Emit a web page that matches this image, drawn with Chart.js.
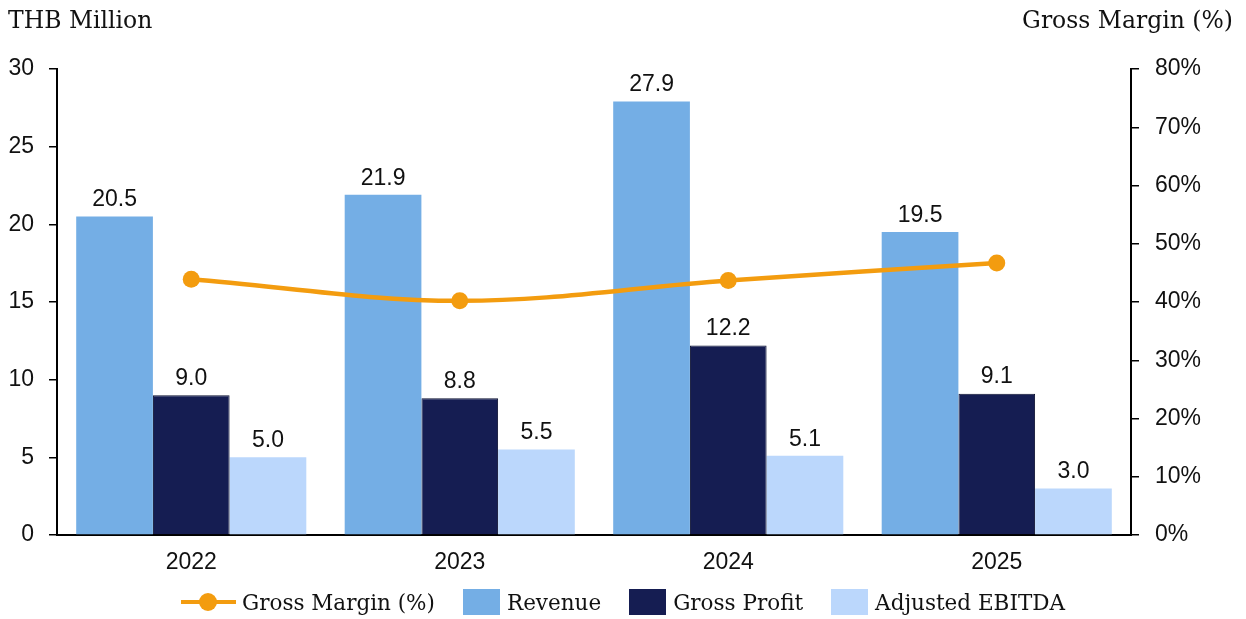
<!DOCTYPE html>
<html>
<head>
<meta charset="utf-8">
<script src="https://cdn.jsdelivr.net/npm/chart.js@4/dist/chart.umd.min.js"></script>
<style>
  body { margin: 0; background: #fff; }
  #wrap { position: relative; width: 1246px; height: 619px; }
  .ttl { position: absolute; top: 6px; font: 23.5px "DejaVu Serif", serif; color: #111; }
  #legend { position: absolute; left: 0; width: 1246px; top: 589px; display: flex; justify-content: center; align-items: center;
            font: 21.5px "DejaVu Serif", serif; color: #111; }
  .item { display: flex; align-items: center; margin: 0 14px; }
  .sw { width: 37px; height: 26px; margin-right: 7px; }
  .ln { position: relative; width: 55px; height: 26px; margin-right: 6px; }
  .ln:before { content: ""; position: absolute; left: 0; right: 0; top: 11px; height: 4px; background: #F39C0F; }
  .ln:after { content: ""; position: absolute; left: 18px; top: 4px; width: 18px; height: 18px; border-radius: 50%; background: #F39C0F; }
</style>
</head>
<body>
<div id="wrap">
  <canvas id="chart"></canvas>
  <div class="ttl" style="left:8px">THB Million</div>
  <div class="ttl" style="right:13px">Gross Margin (%)</div>
  <div id="legend">
    <div class="item"><span class="ln"></span>Gross Margin (%)</div>
    <div class="item"><span class="sw" style="background:#74AEE5"></span>Revenue</div>
    <div class="item"><span class="sw" style="background:#151D52"></span>Gross Profit</div>
    <div class="item"><span class="sw" style="background:#BBD7FC"></span>Adjusted EBITDA</div>
  </div>
</div>
<script>
// values
let years = ['2022', '2023', '2024', '2025'];
let revenue = [20.5, 21.9, 27.9, 19.5];
let grossProfit = [9.0, 8.8, 12.2, 9.1];
let ebitda = [5.0, 5.5, 5.1, 3.0];
let grossMargin = [43.9, 40.2, 43.7, 46.7];

let sans = 'Liberation Sans, Arial, sans-serif';

// value labels on top of the bars
let barLabels = {
    id: 'barLabels',
    afterDatasetsDraw(chart) {
        let ctx = chart.ctx;
        ctx.save();
        ctx.font = '23px ' + sans;
        ctx.fillStyle = '#111';
        ctx.textAlign = 'center';
        ctx.textBaseline = 'bottom';
        chart.data.datasets.forEach(function (ds, i) {
            if (ds.type != 'bar') return;
            chart.getDatasetMeta(i).data.forEach(function (bar, j) {
                ctx.fillText(ds.data[j].toFixed(1), bar.x, bar.y - 5);
            });
        });
        ctx.restore();
    }
};

let ctx = document.getElementById('chart').getContext('2d');
let myChart = new Chart(ctx, {
    data: {
        labels: years,
        datasets: [
            {
                type: 'line', label: 'Gross Margin (%)', data: grossMargin, yAxisID: 'y1',
                borderColor: '#F39C0F', backgroundColor: '#F39C0F', borderWidth: 4.5,
                pointRadius: 8.5, pointHoverRadius: 8.5, pointBorderWidth: 0, tension: 0.35
            },
            { type: 'bar', label: 'Revenue', data: revenue, yAxisID: 'y', backgroundColor: '#74AEE5' },
            { type: 'bar', label: 'Gross Profit', data: grossProfit, yAxisID: 'y', backgroundColor: '#151D52', borderColor: '#0b1030', borderWidth: 1 },
            { type: 'bar', label: 'Adjusted EBITDA', data: ebitda, yAxisID: 'y', backgroundColor: '#BBD7FC' }
        ]
    },
    options: {
        responsive: true,
        maintainAspectRatio: false,
        animation: false,
        datasets: { bar: { categoryPercentage: 0.857, barPercentage: 1.0 } },
        layout: { padding: { top: 69, bottom: 44, left: 0, right: 0 } },
        plugins: { legend: { display: false }, tooltip: { enabled: false } },
        scales: {
            x: {
                grid: { display: false },
                border: { display: true, color: '#000', width: 2 },
                ticks: { color: '#111', font: { family: sans, size: 23 }, padding: 6 },
                afterFit(scale) { scale.height = 40; }
            },
            y: {
                position: 'left', min: 0, max: 30,
                ticks: { stepSize: 5, color: '#111', font: { family: sans, size: 23 }, padding: 15 },
                grid: { drawOnChartArea: false, tickLength: 8, color: '#000', lineWidth: 1.5 },
                border: { display: true, color: '#000', width: 2 },
                afterFit(scale) { scale.width = 57; }
            },
            y1: {
                position: 'right', min: 0, max: 80,
                ticks: { stepSize: 10, color: '#111', font: { family: sans, size: 23 }, padding: 16,
                    callback: function (v) { return v + '%'; } },
                grid: { drawOnChartArea: false, tickLength: 8, color: '#000', lineWidth: 1.5 },
                border: { display: true, color: '#000', width: 2 },
                afterFit(scale) { scale.width = 115; }
            }
        }
    },
    plugins: [barLabels]
});
</script>
</body>
</html>
